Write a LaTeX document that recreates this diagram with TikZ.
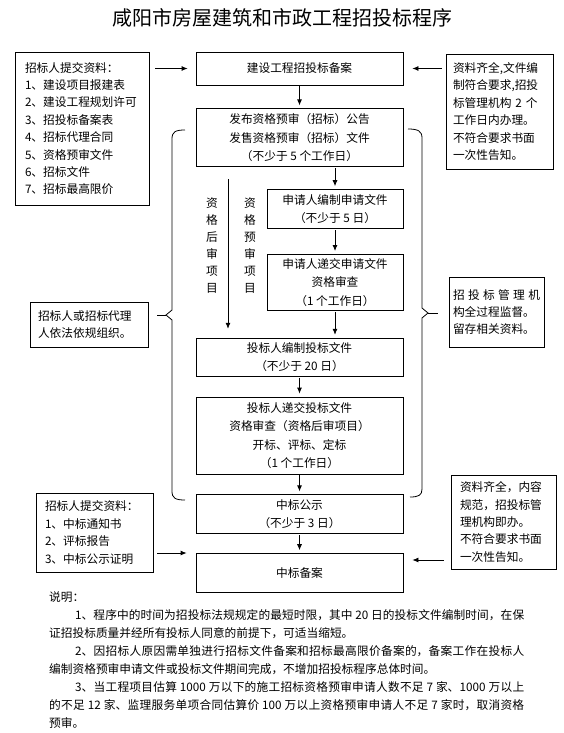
\documentclass[tikz,border=0pt]{standalone}
\usepackage{fontspec}
\setmainfont{Noto Sans CJK SC}
\XeTeXlinebreaklocale "zh"
\XeTeXlinebreakskip=0pt plus 1pt
\setlength{\parindent}{0pt}
\usetikzlibrary{arrows.meta, positioning}
\newcommand{\boxfont}{\fontsize{11.7}{18.5}\selectfont}
\newcommand{\sidefont}{\fontsize{11.7}{17.4}\selectfont}
\newcommand{\notefont}{\fontsize{11.7}{18}\selectfont}

\begin{document}
\begin{tikzpicture}[x=1pt, y=-1pt,
    box/.style={rectangle, draw=black, line width=0.8pt, minimum width=207pt, inner sep=0pt, align=center, font=\boxfont},
    small/.style={box, minimum width=136pt},
    side/.style={rectangle, draw=black, line width=0.8pt, inner ysep=0pt, align=left, font=\sidefont},
    vtext/.style={inner sep=0pt, align=center, font=\fontsize{11.7}{17}\selectfont},
    line/.style={draw=black, line width=0.8pt, -{Latex[length=6pt, width=5pt]}, shorten >=3pt},
    brace/.style={draw=black, line width=0.8pt}
]
    \useasboundingbox (0,0) rectangle (563,733);

    % Title
    \node[font=\fontsize{20}{24}\selectfont] (TITLE) at (282,18) {咸阳市房屋建筑和市政工程招投标程序};

    % Main chain
    \node[box, minimum height=33pt] (REG) at (299.5,68.5) {建设工程招投标备案};
    \node[box, minimum height=58pt, below=23pt of REG] (NOTICE) {
        发布资格预审（招标）公告\\
        发售资格预审（招标）文件\\
        （不少于 5 个工作日）
    };
    \node[small, minimum height=39pt, below=22pt of NOTICE.south east, anchor=north east] (APPLY) {
        申请人编制申请文件\\
        （不少于 5 日）
    };
    \node[small, minimum height=56pt, below=25pt of APPLY] (CHECK) {
        申请人递交申请文件\\
        资格审查\\
        （1 个工作日）
    };
    \node[box, minimum height=38pt, below=27pt of CHECK.south east, anchor=north east] (BIDPREP) {
        投标人编制投标文件\\
        （不少于 20 日）
    };
    \node[box, minimum height=77pt, below=20pt of BIDPREP] (OPEN) {
        投标人递交投标文件\\
        资格审查（资格后审项目）\\
        开标、评标、定标\\
        （1 个工作日）
    };
    \node[box, minimum height=39pt, below=20pt of OPEN] (PUBLIC) {
        中标公示\\
        （不少于 3 日）
    };
    \node[box, minimum height=39pt, below=19pt of PUBLIC] (RECORD) {中标备案};

    % Side notes
    \node[side, text width=114pt, inner xsep=10pt, minimum height=153pt] (DOCS) at (82,128.5) {
        招标人提交资料：\\
        1、建设项目报建表\\
        2、建设工程规划许可\\
        3、招投标备案表\\
        4、招标代理合同\\
        5、资格预审文件\\
        6、招标文件\\
        7、招标最高限价
    };
    \node[side, text width=93pt, inner xsep=7pt, minimum height=115pt] (ACCEPT) at (499.5,111.5) {
        资料齐全,文件编\\
        制符合要求,招投\\
        标管理机构 2 个\\
        工作日内办理。\\
        不符合要求书面\\
        一次性告知。
    };
    \node[side, text width=102pt, inner xsep=8pt, minimum height=45pt] (ORG) at (89,324.5) {
        招标人或招标代理\\
        人依法依规组织。
    };
    \node[side, text width=87pt, inner xsep=4pt, minimum height=70pt, align=justify] (SUPER) at (496.5,312) {
        招投标管理机\linebreak
        构全过程监督。\par
        留存相关资料。
    };
    \node[side, text width=99pt, inner xsep=9pt, minimum height=79pt] (RESULT) at (94.5,532.5) {
        招标人提交资料：\\
        1、中标通知书\\
        2、评标报告\\
        3、中标公示证明
    };
    \node[side, text width=87pt, inner xsep=9pt, minimum height=94pt] (ACCEPT2) at (503.5,522) {
        资料齐全，内容\\
        规范，招投标管\\
        理机构即办。\\
        不符合要求书面\\
        一次性告知。
    };

    % Vertical labels
    \node[vtext] (POSTQ) at (212,245.5) {资\\格\\后\\审\\项\\目};
    \node[vtext] (PREQ) at (250,245.5) {资\\格\\预\\审\\项\\目};

    % Connectors
    \draw[line, shorten <=1pt] (REG) -- (NOTICE);
    \draw[line, shorten <=1pt] (NOTICE.south -| APPLY) -- (APPLY);
    \draw[line, shorten <=1pt] (APPLY) -- (CHECK);
    \draw[line, shorten <=1pt] (CHECK.south) -- (CHECK.south |- BIDPREP.north);
    \draw[line, shorten <=1pt] (BIDPREP) -- (OPEN);
    \draw[line, shorten <=1pt] (OPEN) -- (PUBLIC);
    \draw[line, shorten <=1pt] (PUBLIC) -- (RECORD);
    \coordinate (postx) at (228,0);
    \draw[line, shorten <=12pt, shorten >=9pt] (postx |- NOTICE.south) -- (postx |- BIDPREP.north);

    \draw[line, shorten <=6pt, shorten >=8pt] (DOCS.east |- REG.west) -- (REG.west);
    \draw[line, shorten <=4pt, shorten >=9pt] (ACCEPT.west |- REG.east) -- (REG.east);
    \coordinate (resout) at ([yshift=-20.5pt]RESULT.east);
    \draw[line, shorten <=4pt, shorten >=9pt] (resout) -- (resout -| RECORD.west);
    \coordinate (accout) at ([yshift=-38pt]ACCEPT2.west);
    \draw[line, shorten <=7pt, shorten >=9pt] (accout) -- (accout -| RECORD.east);

    % Braces
    \coordinate (ltip) at (166,315);
    \coordinate (rtip) at (428,313);
    \draw[brace] (185,130) .. controls (175,130) and (172,132) .. (172,139) -- (172,310) -- (ltip) -- (172,320) -- (172,491) .. controls (172,498) and (175,500) .. (185,500);
    \draw[brace] (408,129) .. controls (418,129) and (422,131) .. (422,138) -- (422,308) -- (rtip) -- (422,318) -- (422,489) .. controls (422,495) and (419,497) .. (410,497);
    \draw[brace, shorten <=9pt] (ORG.east |- ltip) -- (ltip);
    \draw[brace, shorten >=11pt] (rtip) -- (rtip -| SUPER.west);

    % Notes
    \node[anchor=north west, text width=475pt, align=justify, inner sep=0pt, font=\notefont] (NOTES) at (49,591.5) {
        说明：\par
        \hspace*{26pt}1、程序中的时间为招投标法规规定的最短时限，其中 20 日的投标文件编制时间，在保\linebreak
        证招投标质量并经所有投标人同意的前提下，可适当缩短。\par
        \hspace*{26pt}2、因招标人原因需单独进行招标文件备案和招标最高限价备案的，备案工作在投标人\linebreak
        编制资格预审申请文件或投标文件期间完成，不增加招投标程序总体时间。\par
        \hspace*{26pt}3、当工程项目估算 1000 万以下的施工招标资格预审申请人数不足 7 家、1000 万以上\linebreak
        的不足 12 家、监理服务单项合同估算价 100 万以上资格预审申请人不足 7 家时，取消资格\linebreak
        预审。
    };
\end{tikzpicture}
\end{document}
